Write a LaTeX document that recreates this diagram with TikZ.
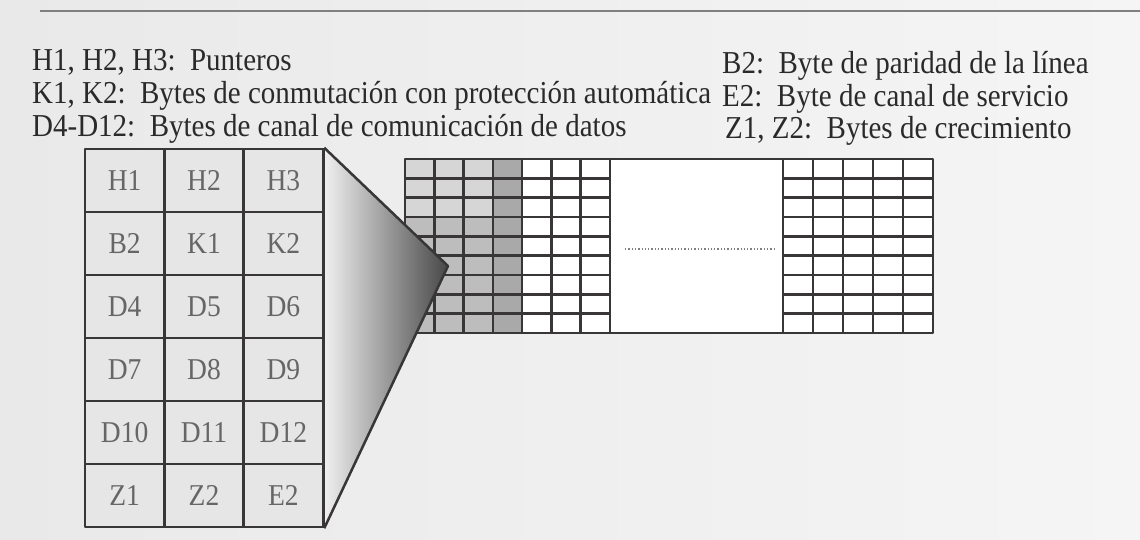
\documentclass[tikz,border=0pt]{standalone}
\usepackage{fontspec}
\setmainfont{Liberation Serif}
\definecolor{bgl}{HTML}{E9E9E9}
\definecolor{bgr}{HTML}{F5F5F5}
\definecolor{cellc}{HTML}{E6E6E6}
\definecolor{linec}{HTML}{383636}
\definecolor{txtc}{HTML}{2A2A2A}
\definecolor{lblc}{HTML}{666666}
\definecolor{shA}{HTML}{D6D6D6}
\definecolor{shB}{HTML}{BDBDBD}
\definecolor{shC}{HTML}{A9A9A9}
\newcommand{\tallT}[1]{\scalebox{1}[1.1]{#1}}
\tikzset{
  legend/.style={anchor=base west, inner sep=0, text=txtc, font=\fontsize{29}{32}\selectfont},
  cellbox/.style={draw=linec, line width=2.5pt, fill=cellc, minimum width=79.33pt, minimum height=63pt, inner sep=0, text=lblc, font=\fontsize{27.5}{30}\selectfont},
  gridline/.style={draw=linec, line width=2.6pt},
}
\begin{document}
\begin{tikzpicture}[x=1pt,y=-1pt,line join=round]
\useasboundingbox (0,0) rectangle (1140,539);
\shade[left color=bgl, right color=bgr] (0,0) rectangle (1140,539);
\draw[gray, line width=1.5pt] (40,11) -- (1140,11);

% legends
\node[legend] (l1) at (32,70) {\tallT{H1, H2, H3:\ \ Punteros}};
\node[legend] (l2) at (32,103) {\tallT{K1, K2:\ \ Bytes de conmutación con protección automática}};
\node[legend] (l3) at (32,136) {\tallT{D4-D12:\ \ Bytes de canal de comunicación de datos}};
\node[legend] (r1) at (722,73) {\tallT{B2:\ \ Byte de paridad de la línea}};
\node[legend] (r2) at (722,106) {\tallT{E2:\ \ Byte de canal de servicio}};
\node[legend] (r3) at (725,138) {\tallT{Z1, Z2:\ \ Bytes de crecimiento}};

% right grid: fills
\fill[white] (405,159) rectangle (933,333);
\fill[shA] (405,159) rectangle (493,217);
\fill[shB] (405,217) rectangle (493,333);
\fill[shC] (493,159) rectangle (523,333);
% vertical lines
\foreach \x in {405,434.3,463.6,492.9,522.1,551.4,580.7,610} {
  \draw[gridline] (\x,159) -- (\x,333);
}
\foreach \x in {783,813,843,873,903,933} {
  \draw[gridline] (\x,159) -- (\x,333);
}
\foreach \i in {1,...,8} {
  \pgfmathsetmacro\yy{159+\i*19.33}
  \draw[gridline] (405,\yy) -- (610,\yy);
  \draw[gridline] (783,\yy) -- (933,\yy);
}
\draw[gridline] (405,159) rectangle (933,333);
\draw[dotted, line width=1.3pt, gray] (625,249) -- (775,249);

% left table
\foreach \lab [count=\k from 0] in {H1,H2,H3,B2,K1,K2,D4,D5,D6,D7,D8,D9,D10,D11,D12,Z1,Z2,E2} {
  \pgfmathtruncatemacro\r{int(\k/3)}
  \pgfmathtruncatemacro\c{mod(\k,3)}
  \node[cellbox] (cell\k) at ({85+79.33*(\c+0.5)},{149+63*(\r+0.5)}) {\tallT{\lab}};
}

% zoom cone
\coordinate (ct) at (cell2.north east);
\coordinate (cb) at (cell17.south east);
\coordinate (tip) at (448,266);
\shade[left color=gray!12, right color=black!72] (ct) -- (tip) -- (cb) -- cycle;
\draw[linec, line width=2.5pt] (ct) -- (tip) -- (cb);
\draw[linec, line width=2.5pt] (ct) -- (cb);
\end{tikzpicture}
\end{document}
